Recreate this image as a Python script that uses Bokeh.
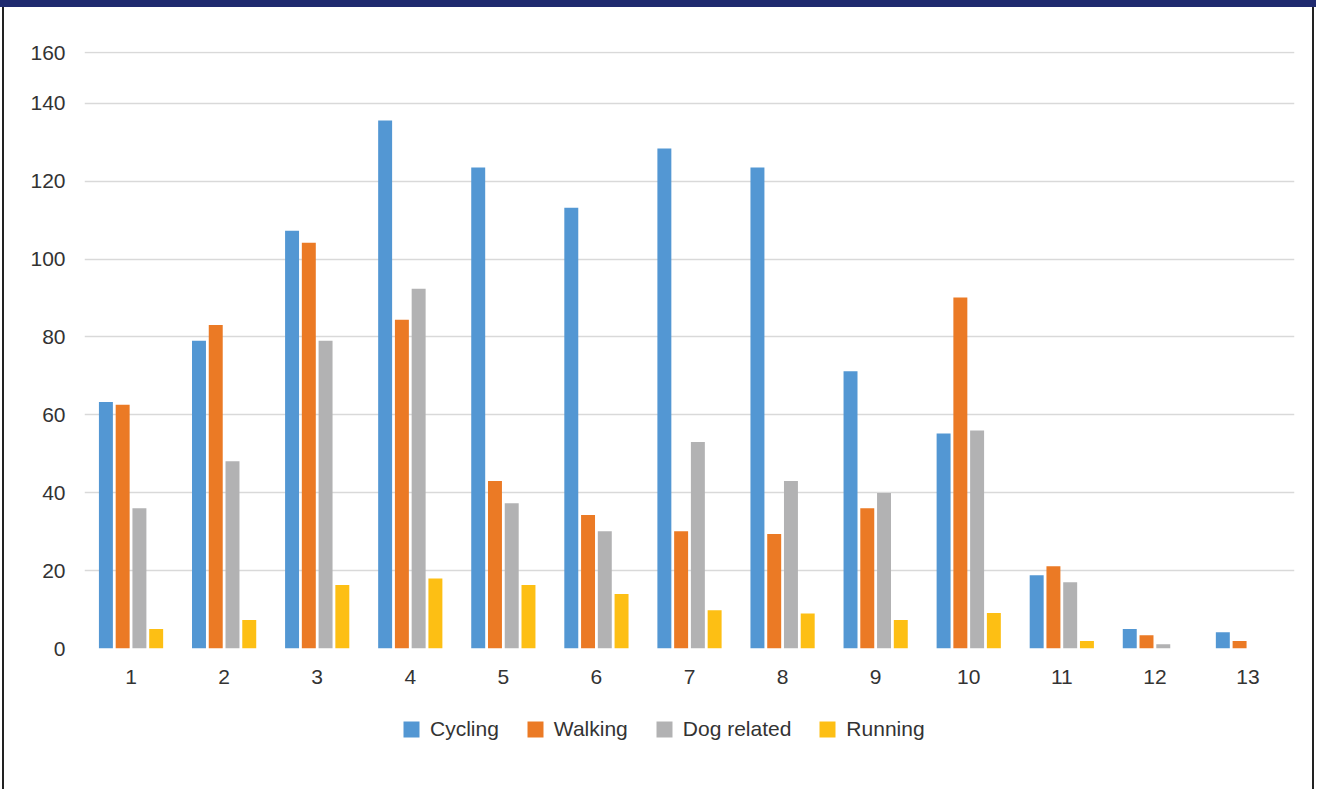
from bokeh.plotting import figure
from bokeh.models import ColumnDataSource, FactorRange, FixedTicker, Legend, LegendItem, Div, Spacer, Range1d
from bokeh.layouts import column, row
from bokeh.transform import dodge
from bokeh.embed import file_html
from bokeh.resources import INLINE

# ---- data ----
categories = [str(i) for i in range(1, 14)]
cycling = [63.3, 79.0, 107.3, 135.6, 123.5, 113.2, 128.4, 123.5, 71.2, 55.2, 18.8, 5.0, 4.2]
walking = [62.6, 83.1, 104.2, 84.4, 43.0, 34.3, 30.1, 29.4, 36.0, 90.1, 21.1, 3.4, 1.9]
dog_related = [36.0, 48.1, 79.0, 92.4, 37.3, 30.1, 53.0, 43.0, 39.9, 56.0, 17.0, 1.1, 0.0]
running = [5.0, 7.3, 16.3, 18.0, 16.3, 14.0, 9.8, 9.0, 7.3, 9.1, 1.9, 0.0, 0.0]
series_names = ["Cycling", "Walking", "Dog related", "Running"]
y_tick_values = [0, 20, 40, 60, 80, 100, 120, 140, 153]
y_tick_labels = ["0", "20", "40", "60", "80", "100", "120", "140", "160"]

colors = ["#5397D3", "#EB7A25", "#B2B2B3", "#FDBF14"]
FONT = "Liberation Sans"
TEXT = "#333333"

source = ColumnDataSource(dict(cat=categories, cycling=cycling, walking=walking,
                               dog=dog_related, running=running))
offsets = [-0.27, -0.09, 0.09, 0.27]
fields = ["cycling", "walking", "dog", "running"]

p = figure(x_range=FactorRange(*categories, range_padding=0),
           y_range=Range1d(0, 153.3),
           width=1308, height=693,
           min_border_left=80, min_border_right=18,
           min_border_top=44, min_border_bottom=52,
           output_backend="svg", toolbar_location=None)
p.outline_line_color = None
p.background_fill_color = "white"
p.border_fill_color = "white"

for f, off, c in zip(fields, offsets, colors):
    p.vbar(x=dodge("cat", off, range=p.x_range), top=f, width=0.15,
           source=source, fill_color=c, line_color=None)

p.xgrid.grid_line_color = None
p.ygrid.grid_line_color = "#D9D9D9"
p.ygrid.grid_line_width = 1.5

p.yaxis.ticker = FixedTicker(ticks=y_tick_values)
p.yaxis.major_label_overrides = {v: l for v, l in zip(y_tick_values, y_tick_labels)}

for ax in (p.xaxis[0], p.yaxis[0]):
    ax.axis_line_color = None
    ax.major_tick_line_color = None
    ax.minor_tick_line_color = None
    ax.major_tick_out = 0
    ax.major_tick_in = 0
    ax.minor_tick_out = 0
    ax.major_label_text_font = FONT
    ax.major_label_text_font_size = "21px"
    ax.major_label_text_color = TEXT
p.yaxis.major_label_standoff = 19
p.xaxis.major_label_standoff = 21

# ---- legend strip below the chart (same bars, kept out of view, only for the keys) ----
lg = figure(x_range=p.x_range, y_range=Range1d(1000, 1001), width=1308, height=89,
            min_border=0, output_backend="svg", toolbar_location=None)
lg.axis.visible = False
lg.grid.visible = False
lg.outline_line_color = None
items = []
for n, f, off, c in zip(series_names, fields, offsets, colors):
    r = lg.vbar(x=dodge("cat", off, range=lg.x_range), top=f, width=0.15,
                source=source, fill_color=c, line_color=None)
    items.append(LegendItem(label=n, renderers=[r], index=0))
legend = Legend(items=items, orientation="horizontal", location=(317, 48))
legend.background_fill_alpha = 0
legend.border_line_alpha = 0
legend.padding = 0
legend.margin = 0
legend.spacing = 26
legend.label_standoff = 9
legend.glyph_width = 20
legend.glyph_height = 20
legend.label_text_font = FONT
legend.label_text_font_size = "21px"
legend.label_text_color = TEXT
lg.add_layout(legend)

header = Div(text="", width=1316, height=7, margin=0,
             styles={"background-color": "#1F2A6F"})
left_border = Div(text="", width=2, height=782, margin=0, styles={"background-color": "#222222"})
right_border = Div(text="", width=2, height=782, margin=0, styles={"background-color": "#222222"})
layout = column(header,
                row(Spacer(width=2, height=782, margin=0), left_border,
                    column(p, lg, spacing=0), right_border, spacing=0),
                spacing=0)

open("out.html", "w").write(file_html(layout, INLINE))
